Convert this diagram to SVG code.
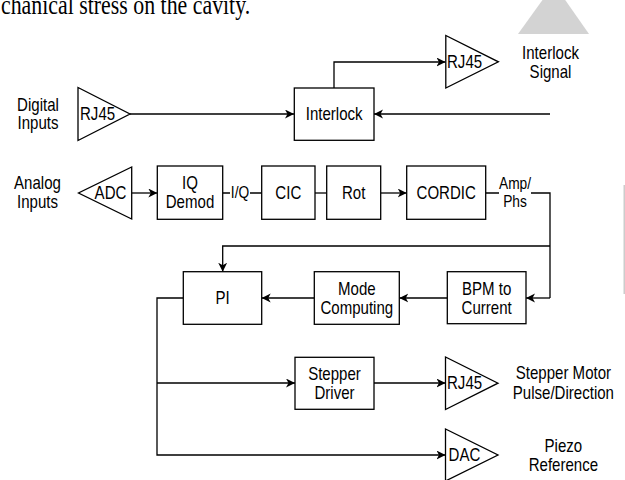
<svg xmlns="http://www.w3.org/2000/svg" width="625" height="480" viewBox="0 0 625 480">
<defs>
<style>
.box{fill:#fff;stroke:#000;stroke-width:1.3}
.tri{fill:#fff;stroke:#000;stroke-width:1.3;stroke-linejoin:miter}
.ln{fill:none;stroke:#000;stroke-width:1.3}
.t{font-family:"Liberation Sans",Arial,Helvetica,sans-serif;font-size:17.5px;fill:#000;text-anchor:middle}
.ts{text-anchor:start}
.lb{font-family:"Liberation Sans",Arial,Helvetica,sans-serif;font-size:16px;fill:#000;text-anchor:middle}
.serif{font-family:"Liberation Serif","Times New Roman",serif;font-size:27px;fill:#000}
</style>
<marker id="arr" markerUnits="userSpaceOnUse" markerWidth="10" markerHeight="10" refX="9" refY="4.5" orient="auto">
<path d="M0,0 L9,4.5 L0,9 L2.5,4.5 z" fill="#000"/>
</marker>
</defs>
<rect width="625" height="480" fill="#fff"/>
<text class="serif" transform="translate(1,14) scale(0.81,1)">chanical stress on the cavity.</text>
<polygon points="554,-16 589,34 518,34" fill="#d3d3d3"/>
<rect x="623.5" y="185" width="1.5" height="109" fill="#cccccc"/>

<g id="connectors">
<path class="ln" d="M130,114 H294" marker-end="url(#arr)"/>
<path class="ln" d="M334,88 V62 H445.5" marker-end="url(#arr)"/>
<path class="ln" d="M550,114 H374" marker-end="url(#arr)"/>
<path class="ln" d="M485.7,193 H550 V298"/>
<path class="ln" d="M550,246 H222.7 V271.7" marker-end="url(#arr)"/>
<path class="ln" d="M550,298 H526" marker-end="url(#arr)"/>
<path class="ln" d="M447.3,298 H399.3" marker-end="url(#arr)"/>
<path class="ln" d="M314.3,298 H261.7" marker-end="url(#arr)"/>
<path class="ln" d="M183.3,298 H157 V455 H445.5" marker-end="url(#arr)"/>
<path class="ln" d="M157,383 H295" marker-end="url(#arr)"/>
<path class="ln" d="M374,383 H445.5" marker-end="url(#arr)"/>
<path class="ln" d="M131.7,193 H157.3" marker-end="url(#arr)"/>
<path class="ln" d="M222.7,193 H261.7"/>
<path class="ln" d="M315,193 H326.7"/>
<path class="ln" d="M380.7,193 H406.7" marker-end="url(#arr)"/>
<rect x="230" y="185" width="20" height="16" fill="#fff"/>
<text class="lb" transform="translate(240,198.4) scale(0.86,1)">I/Q</text>
<rect x="499" y="176" width="32" height="34" fill="#fff"/>
<text class="lb" transform="translate(515,189) scale(0.86,1)">Amp/</text>
<text class="lb" transform="translate(515,207.4) scale(0.86,1)">Phs</text>
</g>

<g id="digital-inputs">
<text class="t" transform="translate(38,111) scale(0.86,1)">Digital</text>
<text class="t" transform="translate(38,129) scale(0.86,1)">Inputs</text>
<polygon class="tri" points="78,87.5 78,140.5 130,114"/>
<text class="t ts" transform="translate(80,120) scale(0.86,1)">RJ45</text>
</g>

<g id="analog-inputs">
<text class="t" transform="translate(37.5,189) scale(0.86,1)">Analog</text>
<text class="t" transform="translate(37.5,207.7) scale(0.86,1)">Inputs</text>
<polygon class="tri" points="131.7,167 131.7,219 78.5,193"/>
<text class="t" transform="translate(110.5,199) scale(0.86,1)">ADC</text>
</g>

<g id="interlock">
<rect class="box" x="294.3" y="88" width="79.7" height="52.3"/>
<text class="t" transform="translate(334.2,120) scale(0.86,1)">Interlock</text>
</g>

<g id="interlock-out">
<polygon class="tri" points="445.8,35.5 445.8,88 498.4,61.8"/>
<text class="t ts" transform="translate(447,67.7) scale(0.86,1)">RJ45</text>
<text class="t" transform="translate(550.5,58.7) scale(0.86,1)">Interlock</text>
<text class="t" transform="translate(550.5,77.7) scale(0.86,1)">Signal</text>
</g>

<g id="iq-demod">
<rect class="box" x="157.3" y="166" width="65.4" height="53.3"/>
<text class="t" transform="translate(190,189.2) scale(0.86,1)">IQ</text>
<text class="t" transform="translate(190,208.2) scale(0.86,1)">Demod</text>
</g>

<g id="cic">
<rect class="box" x="261.7" y="166" width="53.3" height="53.3"/>
<text class="t" transform="translate(288.3,198.7) scale(0.86,1)">CIC</text>
</g>

<g id="rot">
<rect class="box" x="326.7" y="166" width="54" height="53.3"/>
<text class="t" transform="translate(353.7,198.7) scale(0.86,1)">Rot</text>
</g>

<g id="cordic">
<rect class="box" x="406.7" y="166" width="79" height="53.3"/>
<text class="t" transform="translate(446.2,198.7) scale(0.86,1)">CORDIC</text>
</g>

<g id="pi">
<rect class="box" x="183.3" y="271.7" width="78.4" height="52.6"/>
<text class="t" transform="translate(222.5,304) scale(0.86,1)">PI</text>
</g>

<g id="mode-computing">
<rect class="box" x="314.3" y="271.7" width="85" height="52.6"/>
<text class="t" transform="translate(356.8,294.5) scale(0.86,1)">Mode</text>
<text class="t" transform="translate(356.8,313.5) scale(0.86,1)">Computing</text>
</g>

<g id="bpm-to-current">
<rect class="box" x="447.3" y="271.7" width="78.7" height="52"/>
<text class="t" transform="translate(486.7,294.5) scale(0.86,1)">BPM to</text>
<text class="t" transform="translate(486.7,313.5) scale(0.86,1)">Current</text>
</g>

<g id="stepper-driver">
<rect class="box" x="295" y="357.3" width="79" height="52"/>
<text class="t" transform="translate(334.5,379.5) scale(0.86,1)">Stepper</text>
<text class="t" transform="translate(334.5,398.5) scale(0.86,1)">Driver</text>
</g>

<g id="stepper-out">
<polygon class="tri" points="445.5,357 445.5,409.5 498,383.2"/>
<text class="t ts" transform="translate(447,389.2) scale(0.86,1)">RJ45</text>
<text class="t" transform="translate(563.4,379) scale(0.86,1)">Stepper Motor</text>
<text class="t" transform="translate(563.4,399.3) scale(0.86,1)">Pulse/Direction</text>
</g>

<g id="dac-out">
<polygon class="tri" points="445.5,429 445.5,481 498,455"/>
<text class="t ts" transform="translate(448.6,461) scale(0.86,1)">DAC</text>
<text class="t" transform="translate(563.4,451.7) scale(0.86,1)">Piezo</text>
<text class="t" transform="translate(563.4,471) scale(0.86,1)">Reference</text>
</g>
</svg>
